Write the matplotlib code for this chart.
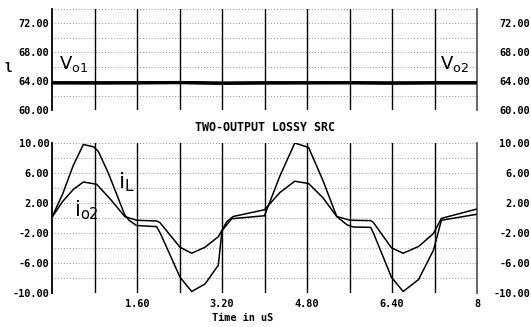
import matplotlib
matplotlib.use("Agg")
import matplotlib.pyplot as plt
import numpy as np

# ---- data ----
t_vo = [0.0, 0.8, 1.6, 2.4, 3.2, 4.0, 4.8, 5.6, 6.4, 7.2, 8.0]
vo1 = [63.75, 63.75, 63.75, 63.78, 63.70, 63.75, 63.75, 63.75, 63.72, 63.75, 63.75]
vo2 = [63.75, 63.72, 63.75, 63.80, 63.68, 63.72, 63.75, 63.78, 63.70, 63.75, 63.75]

t_il = [0.0, 0.2, 0.4, 0.59, 0.78, 0.87, 1.06, 1.37, 1.45, 1.59, 1.97, 2.05, 2.41,
        2.63, 2.88, 3.13, 3.2, 3.38, 4.0, 4.29, 4.57, 4.83, 5.1, 5.36, 5.55, 5.67,
        6.0, 6.05, 6.39, 6.61, 6.9, 7.18, 7.33, 8.0]
i_l = [0.1, 3.2, 7.0, 9.8, 9.5, 8.9, 6.0, 0.4, -0.3, -1.0, -1.15, -2.2, -7.9,
       -9.8, -8.8, -6.3, -1.7, -0.1, 0.3, 5.6, 10.0, 9.4, 5.0, 0.2, -0.9, -1.2,
       -1.25, -2.0, -7.9, -9.8, -8.2, -4.3, -0.3, 0.5]

t_io2 = [0.0, 0.2, 0.4, 0.59, 0.84, 1.1, 1.37, 1.59, 1.97, 2.03, 2.41, 2.63, 2.88,
         3.13, 3.29, 3.41, 4.0, 4.29, 4.57, 4.83, 5.1, 5.36, 5.61, 6.0, 6.05, 6.39,
         6.61, 6.9, 7.18, 7.33, 8.0]
i_o2 = [0.1, 2.2, 3.8, 4.8, 4.5, 2.5, 0.2, -0.3, -0.4, -0.6, -3.9, -4.7, -3.9,
        -2.5, -0.5, 0.2, 1.1, 3.4, 4.9, 4.6, 2.7, 0.2, -0.3, -0.35, -0.6, -3.97,
        -4.7, -3.8, -2.07, -0.05, 1.2]

top_ticks = [60, 64, 68, 72]
bot_ticks = [-10, -6, -2, 2, 6, 10]
x_ticks = [1.6, 3.2, 4.8, 6.4, 8.0]
x_ticklabels = ["1.60", "3.20", "4.80", "6.40", "8"]
title = "TWO-OUTPUT LOSSY SRC"
xlabel = "Time in uS"

W, H = 531, 327
fig = plt.figure(figsize=(W / 100, H / 100), dpi=100)

mono = "DejaVu Sans Mono"
tfs = 7.4

L, R = 52 / W, 477 / W


def style(ax, ylim, ticks, grid_step):
    ax.set_xlim(0, 8)
    ax.set_ylim(*ylim)
    for s in ("top", "bottom"):
        ax.spines[s].set_visible(False)
    ax.spines["left"].set_color("black")
    ax.spines["left"].set_linewidth(1.3)
    ax.spines["right"].set_color("0.35")
    ax.spines["right"].set_linewidth(1.3)
    # grid
    for v in np.arange(ylim[0], ylim[1] + 0.01, grid_step):
        ax.axhline(v, color="0.45", lw=0.6, ls=(0, (1, 2.5)), zorder=1)
    for x in np.arange(0.8, 7.99, 0.8):
        ax.axvline(x, color="black", lw=1.0, zorder=1)
    ax.set_yticks(ticks)
    ax.set_yticklabels([f"{v:.2f}" for v in ticks], fontfamily=mono,
                       fontweight="bold", fontsize=tfs)
    ax.tick_params(axis="y", length=0, pad=2)
    # right-side labels, right-aligned near figure edge
    tw = ax.twinx()
    tw.set_ylim(*ylim)
    tw.set_yticks(ticks)
    tw.set_yticklabels([f"{v:.2f}" for v in ticks], fontfamily=mono,
                       fontweight="bold", fontsize=tfs, ha="right")
    tw.tick_params(axis="y", length=0, pad=38)
    for s in tw.spines.values():
        s.set_visible(False)
    return tw


# top panel
ax1 = fig.add_axes([L, 1 - 110 / H, R - L, (110 - 8.5) / H])
style(ax1, (60, 74), top_ticks, 2)
ax1.set_xticks([])
ax1.plot(t_vo, vo1, color="black", lw=2.4, zorder=3)
ax1.plot(t_vo, vo2, color="black", lw=2.0, zorder=3)
ax1.text(0.14, 65.6, r"$\mathregular{V_{o1}}$", fontsize=13, ha="left", va="baseline")
ax1.text(7.3, 65.6, r"$\mathregular{V_{o2}}$", fontsize=13, ha="left", va="baseline")

# bottom panel
ax2 = fig.add_axes([L, 1 - 293 / H, R - L, 150 / H])
style(ax2, (-10, 10), bot_ticks, 2)
ax2.set_xticks(x_ticks)
ax2.set_xticklabels(x_ticklabels, fontfamily=mono, fontweight="bold", fontsize=tfs)
ax2.tick_params(axis="x", length=0, pad=4)
ax2.plot(t_il, i_l, color="black", lw=1.1, zorder=3)
ax2.plot(t_io2, i_o2, color="black", lw=1.1, zorder=3)
ax2.text(1.24, 4.0, r"$\mathregular{i_L}$", fontsize=16, ha="left", va="baseline")
ax2.text(0.42, 0.2, r"$\mathregular{i_{o2}}$", fontsize=15, ha="left", va="baseline")

fig.text(265 / W, 1 - 128 / H, title, fontfamily=mono, fontweight="bold",
         fontsize=8.4, ha="center", va="center")
fig.text(243 / W, 1 - 318 / H, xlabel, fontfamily=mono, fontweight="bold",
         fontsize=7.4, ha="center", va="center")
fig.text(8 / W, 1 - 68 / H, "l", fontfamily=mono, fontweight="bold",
         fontsize=9, ha="center", va="center")

fig.savefig("out.png", dpi=100)
